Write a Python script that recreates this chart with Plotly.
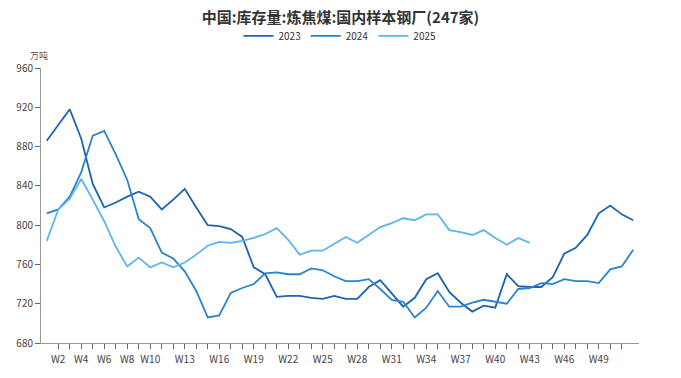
import plotly.graph_objects as go

weeks = [f"W{i}" for i in range(1, 53)]

y2023 = [886, 902, 918, 888, 842, 818, 823, 829, 834, 829, 816, 826, 837, 818, 800, 799, 796, 788, 757, 750,
         727, 728, 728, 726, 725, 728, 725, 725, 737, 744, 731, 717, 726, 745, 751, 732, 721, 712, 718, 716,
         750, 738, 737, 737, 747, 771, 777, 790, 812, 820, 811, 805]
y2024 = [812, 816, 829, 854, 891, 896, 872, 846, 806, 797, 772, 766, 753, 733, 706, 708, 731, 736, 740, 751,
         752, 750, 750, 756, 754, 748, 743, 743, 745, 735, 724, 722, 706, 716, 733, 717, 717, 721, 724, 722,
         720, 735, 736, 741, 740, 745, 743, 743, 741, 755, 758, 775]
y2025 = [784, 816, 827, 847, 826, 804, 778, 758, 767, 757, 762, 757, 762, 770, 779, 783, 782, 784, 787, 791,
         797, 785, 770, 774, 774, 781, 788, 782, 790, 798, 802, 807, 805, 811, 811, 795, 793, 790, 795, 787,
         780, 787, 782]

labeled = ["W2", "W4", "W6", "W8", "W10", "W13", "W16", "W19", "W22", "W25", "W28", "W31", "W34",
           "W37", "W40", "W43", "W46", "W49"]
tick_weeks = weeks[1:51]
tick_text = [w if w in labeled else "" for w in tick_weeks]

colors = {"2023": "#1d63ad", "2024": "#2b83cc", "2025": "#5db4ee"}

fig = go.Figure()
for name, ys in [("2023", y2023), ("2024", y2024), ("2025", y2025)]:
    fig.add_trace(go.Scatter(x=weeks[:len(ys)], y=ys, mode="lines", name=name,
                             line=dict(color=colors[name], width=1.8)))

fig.update_layout(
    width=681, height=378,
    margin=dict(l=41, r=42, t=68, b=28),
    paper_bgcolor="white", plot_bgcolor="white",
    font=dict(family="Noto Sans CJK SC, Noto Sans, sans-serif", color="#444", size=10),
    title=dict(text="<b>中国:库存量:炼焦煤:国内样本钢厂(247家)</b>", x=0.5, xanchor="center",
               y=0.952, yanchor="middle", font=dict(size=15, color="#333")),
    legend=dict(orientation="h", x=0.5, xanchor="center", y=1.117, yanchor="middle",
                font=dict(size=10, color="#333"), itemwidth=30, tracegroupgap=0),
    showlegend=True,
)
fig.update_xaxes(type="category", range=[-0.5, 51.5], tickmode="array", tickvals=tick_weeks,
                 ticktext=tick_text, ticks="outside", ticklen=5, tickcolor="#666",
                 showline=True, linecolor="#999", linewidth=1, showgrid=False,
                 tickfont=dict(size=10, color="#444"), zeroline=False, ticklabelstandoff=2)
fig.update_yaxes(range=[680, 960], tickmode="linear", tick0=680, dtick=40, ticks="outside",
                 ticklen=5, tickcolor="#666", showline=True, linecolor="#999", linewidth=1,
                 showgrid=False, zeroline=False, tickfont=dict(size=10, color="#444"))
fig.add_annotation(text="万吨", xref="paper", yref="paper", x=-0.003, y=0.046,
                   xanchor="center", yanchor="middle", showarrow=False,
                   font=dict(size=9, color="#555"))
fig.layout.annotations[0].y = 1.046

fig.write_html("out.html")
